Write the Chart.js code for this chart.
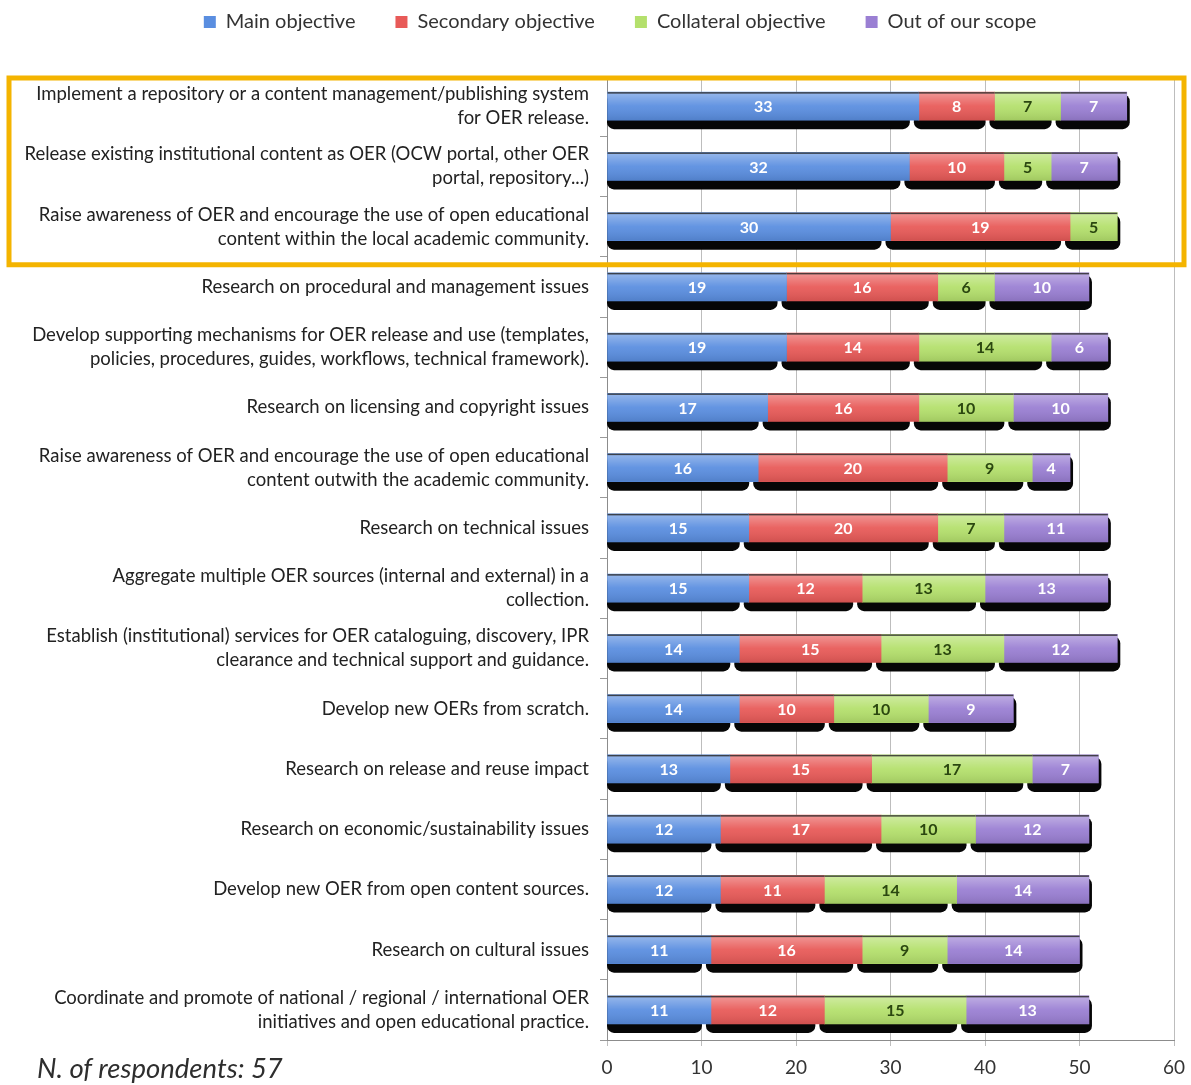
<!DOCTYPE html>
<html>
<head>
<meta charset="utf-8">
<title>OER objectives</title>
<script src="https://cdn.jsdelivr.net/npm/chart.js@4.4.1/dist/chart.umd.min.js"></script>
<style>
    html, body { margin: 0; padding: 0; background: #ffffff; }
    #wrap { position: relative; width: 1191px; height: 1085px; }
    #note {
        position: absolute; left: 37px; top: 1051px;
        font: italic 27.5px 'Lato', sans-serif; color: #2e2e2e;
    }
</style>
</head>
<body>
<div id="wrap">
    <canvas id="chart"></canvas>
    <div id="note">N. of respondents: 57</div>
</div>
<script>
// ================================
// Data
// ================================
const categories = [
    ['Implement a repository or a content management/publishing system', 'for OER release.'],
    ['Release existing institutional content as OER (OCW portal, other OER', 'portal, repository...)'],
    ['Raise awareness of OER and encourage the use of open educational', 'content within the local academic community.'],
    'Research on procedural and management issues',
    ['Develop supporting mechanisms for OER release and use (templates,', 'policies, procedures, guides, workflows, technical framework).'],
    'Research on licensing and copyright issues',
    ['Raise awareness of OER and encourage the use of open educational', 'content outwith the academic community.'],
    'Research on technical issues',
    ['Aggregate multiple OER sources (internal and external) in a', 'collection.'],
    ['Establish (institutional) services for OER cataloguing, discovery, IPR', 'clearance and technical support and guidance.'],
    'Develop new OERs from scratch.',
    'Research on release and reuse impact',
    'Research on economic/sustainability issues',
    'Develop new OER from open content sources.',
    'Research on cultural issues',
    ['Coordinate and promote of national / regional / international OER', 'initiatives and open educational practice.']
];

const mainObjective       = [33, 32, 30, 19, 19, 17, 16, 15, 15, 14, 14, 13, 12, 12, 11, 11];
const secondaryObjective  = [8, 10, 19, 16, 14, 16, 20, 20, 12, 15, 10, 15, 17, 11, 16, 12];
const collateralObjective = [7, 5, 5, 6, 14, 10, 9, 7, 13, 13, 10, 17, 10, 14, 9, 15];
const outOfScope          = [7, 7, null, 10, 6, 10, 4, 11, 13, 12, 9, 7, 12, 14, 14, 13];

const seriesNames = ['Main objective', 'Secondary objective', 'Collateral objective', 'Out of our scope'];
const xMin = 0;
const xMax = 60;
const xStep = 10;
const highlightRows = [0, 1, 2];

// Styles
const seriesColors = ['#5a8ee0', '#e85a58', '#b4e06c', '#9a7fd3'];
const numberColors = ['#ffffff', '#ffffff', '#2b4710', '#ffffff'];
const FONT = "'Lato', sans-serif";

// ================================
// Helpers
// ================================
function visibleSegments(chart, row) {
    const out = [];
    chart.data.datasets.forEach((ds, d) => {
        if (!ds.data[row]) return;
        out.push(chart.getDatasetMeta(d).data[row].getProps(['x', 'y', 'base', 'height'], true));
    });
    return out;
}

// Black "3D" shadow under each segment
const barShadows = {
    id: 'barShadows',
    beforeDatasetsDraw(chart) {
        const ctx = chart.ctx;
        const area = chart.chartArea;
        ctx.save();
        ctx.beginPath();
        ctx.rect(area.left, area.top, area.right - area.left + 30, area.bottom - area.top);
        ctx.clip();
        ctx.fillStyle = '#060606';
        chart.data.labels.forEach((_, i) => {
            const segs = visibleSegments(chart, i);
            segs.forEach((bar, k) => {
                const last = k === segs.length - 1;
                const left = Math.max(area.left, bar.base - 5);
                const right = last ? bar.x + 3 : bar.x - 9;
                const top = bar.y - bar.height / 2 + 2;
                const bottom = bar.y + bar.height / 2 + 9;
                ctx.beginPath();
                ctx.roundRect(left, top, right - left, bottom - top, 7);
                ctx.fill();
            });
        });
        ctx.restore();
    }
};

// Gloss + numbers on top of the bars
const barGloss = {
    id: 'barGloss',
    afterDatasetsDraw(chart) {
        const ctx = chart.ctx;
        ctx.save();
        chart.data.labels.forEach((_, i) => {
            visibleSegments(chart, i).forEach(bar => {
                const top = bar.y - bar.height / 2;
                const h = bar.height;
                const g = ctx.createLinearGradient(0, top, 0, top + h);
                g.addColorStop(0, 'rgba(255,255,255,0.38)');
                g.addColorStop(0.5, 'rgba(255,255,255,0.06)');
                g.addColorStop(1, 'rgba(0,0,0,0.10)');
                ctx.fillStyle = g;
                ctx.fillRect(bar.base, top, bar.x - bar.base, h);
                ctx.fillStyle = 'rgba(35,35,35,0.8)';
                ctx.fillRect(bar.base, top, bar.x - bar.base, 1.5);
            });
        });

        ctx.font = 'bold 16px ' + FONT;
        ctx.textAlign = 'center';
        ctx.textBaseline = 'middle';
        chart.data.datasets.forEach((ds, d) => {
            chart.getDatasetMeta(d).data.forEach((el, i) => {
                const v = ds.data[i];
                if (!v) return;
                const bar = el.getProps(['x', 'y', 'base'], true);
                ctx.fillStyle = numberColors[d];
                ctx.fillText(String(v), (bar.x + bar.base) / 2, bar.y + 1);
            });
        });
        ctx.restore();
    }
};

// Yellow frame around the top rows
const highlightBox = {
    id: 'highlightBox',
    afterDraw(chart) {
        const y = chart.scales.y;
        const ctx = chart.ctx;
        const half = (y.getPixelForValue(1) - y.getPixelForValue(0)) / 2;
        const top = y.getPixelForValue(highlightRows[0]) - half + 2;
        const bottom = y.getPixelForValue(highlightRows[highlightRows.length - 1]) + half + 8;
        ctx.save();
        ctx.strokeStyle = '#f4b400';
        ctx.lineWidth = 5;
        ctx.strokeRect(9, top, chart.width - 16, bottom - top);
        ctx.restore();
    }
};

// Fixed legend height, and legend nudged right to sit over the plot like the original
const legendSpace = {
    id: 'legendSpace',
    beforeLayout(chart) {
        const legend = chart.legend;
        if (!legend || legend._patched) return;
        const fit = legend.fit;
        legend.fit = function () {
            fit.call(this);
            this.height = 104;
        };
        legend._patched = true;
    },
    afterLayout(chart) {
        chart.legend.left += 22;
        chart.legend.right += 22;
    }
};

// ================================
// Chart
// ================================
document.addEventListener('DOMContentLoaded', () => {
    const ctx = document.getElementById('chart').getContext('2d');
    const values = [mainObjective, secondaryObjective, collateralObjective, outOfScope];

    new Chart(ctx, {
        type: 'bar',
        data: {
            labels: categories,
            datasets: values.map((data, d) => ({
                label: seriesNames[d],
                data: data,
                backgroundColor: seriesColors[d],
                borderWidth: 0,
                barThickness: 28
            }))
        },
        options: {
            indexAxis: 'y',
            responsive: true,
            maintainAspectRatio: false,
            animation: false,
            events: [],
            layout: {
                padding: { top: -28, left: 10, right: 5, bottom: 0 }
            },
            scales: {
                x: {
                    stacked: true,
                    min: xMin,
                    max: xMax,
                    ticks: {
                        stepSize: xStep,
                        padding: 10,
                        color: '#333',
                        font: { family: FONT, size: 19 }
                    },
                    grid: { color: '#bdbdbd', tickLength: 6 },
                    border: { color: '#8c8c8c' },
                    afterFit(scale) {
                        scale.height = 45;
                        scale.paddingRight = 17;
                    }
                },
                y: {
                    stacked: true,
                    ticks: {
                        autoSkip: false,
                        padding: 11,
                        color: '#222',
                        font: { family: FONT, size: 18.5, lineHeight: 1.3 }
                    },
                    grid: { drawOnChartArea: false, offset: true, tickLength: 7, color: '#9a9a9a' },
                    border: { color: '#8c8c8c' },
                    afterFit(scale) { scale.width = 597; }
                }
            },
            plugins: {
                legend: {
                    position: 'top',
                    labels: {
                        boxWidth: 12,
                        boxHeight: 12,
                        padding: 40,
                        color: '#333',
                        font: { family: FONT, size: 20 }
                    }
                },
                tooltip: { enabled: false }
            }
        },
        plugins: [legendSpace, barShadows, barGloss, highlightBox]
    });
});
</script>
</body>
</html>
